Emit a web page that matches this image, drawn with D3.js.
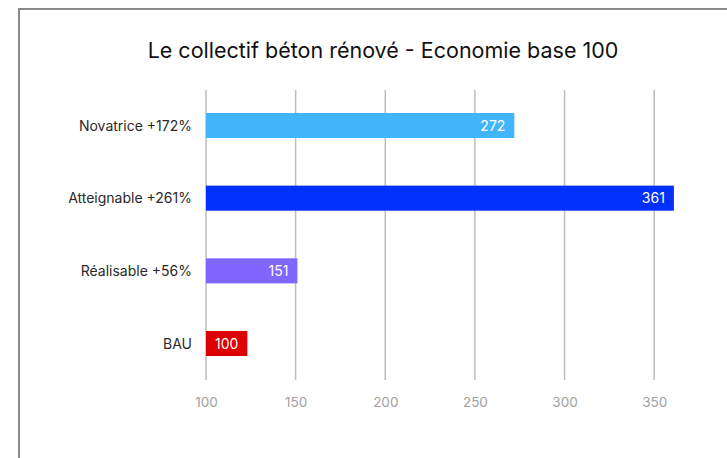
<!DOCTYPE html>
<html lang="fr">
<head>
<meta charset="UTF-8">
<title>Le collectif béton rénové</title>
<style>
    body { margin: 0; padding: 0; background: #fff; }
    svg { display: block; font-family: Inter, "Noto Sans", sans-serif; }
    .grid line { stroke: #bdbdbd; stroke-width: 1.5px; }
    .x-axis text { fill: #a0a0a0; font-size: 13.5px; }
    .cat { fill: #2a2a2a; font-size: 14px; text-anchor: end; }
    .val { fill: #fff; font-size: 14px; text-anchor: end; }
</style>
</head>
<body>
<svg id="chart" width="727" height="458"></svg>
<script src="https://d3js.org/d3.v7.min.js"></script>
<script>
// data
const categories = ["Novatrice +172%", "Atteignable +261%", "Réalisable +56%", "BAU"];
const values = [272, 361, 151, 100];
const colors = ["#42b4fa", "#0231fe", "#8066fd", "#dd0000"];
const tickValues = [100, 150, 200, 250, 300, 350];

const svg = d3.select("#chart");

// frame
svg.append("rect")
    .attr("x", 19).attr("y", 9)
    .attr("width", 760).attr("height", 500)
    .attr("fill", "none")
    .attr("stroke", "#8a8a8a")
    .attr("stroke-width", 2);

svg.append("text")
    .attr("x", 383).attr("y", 58)
    .attr("text-anchor", "middle")
    .attr("font-size", 21.5)
    .attr("fill", "#111")
    .text("Le collectif béton rénové - Economie base 100");

const plotTop = 90, plotBottom = 380;
const labelPad = 9;

const x = d3.scaleLinear().domain([100, 375]).range([206, 699]);
const y = d3.scaleBand().domain(categories).range([89, 380]).paddingInner(0.655).paddingOuter(0.33);

// gridlines
svg.append("g").attr("class", "grid")
    .selectAll("line")
    .data(tickValues)
    .join("line")
    .attr("x1", d => x(d)).attr("x2", d => x(d))
    .attr("y1", plotTop).attr("y2", plotBottom);

// x axis labels
const xAxis = svg.append("g")
    .attr("class", "x-axis")
    .attr("transform", "translate(0," + (plotBottom + 8) + ")")
    .call(d3.axisBottom(x).tickValues(tickValues).tickSize(0).tickPadding(9));
xAxis.select(".domain").remove();
xAxis.attr("font-family", null).attr("font-size", null);

const rows = categories.map((c, i) => ({ cat: c, value: values[i], color: colors[i] }));

const bars = svg.append("g");
const vals = svg.append("g");

// labels first so the bar can be at least as wide as its label
const valText = vals.selectAll("text")
    .data(rows)
    .join("text")
    .attr("class", "val")
    .attr("y", d => y(d.cat) + y.bandwidth() / 2)
    .attr("dy", "0.36em")
    .text(d => d.value);

valText.each(function(d) {
    const tw = this.getComputedTextLength();
    d.w = Math.max(x(d.value) - x(100), tw + 2 * labelPad);
});
valText.attr("x", d => x(100) + d.w - labelPad);

bars.selectAll("rect")
    .data(rows)
    .join("rect")
    .attr("x", x(100))
    .attr("y", d => y(d.cat))
    .attr("width", d => d.w)
    .attr("height", y.bandwidth())
    .attr("fill", d => d.color);

svg.append("g")
    .selectAll("text")
    .data(rows)
    .join("text")
    .attr("class", "cat")
    .attr("x", 192)
    .attr("y", d => y(d.cat) + y.bandwidth() / 2)
    .attr("dy", "0.36em")
    .text(d => d.cat);
</script>
</body>
</html>
